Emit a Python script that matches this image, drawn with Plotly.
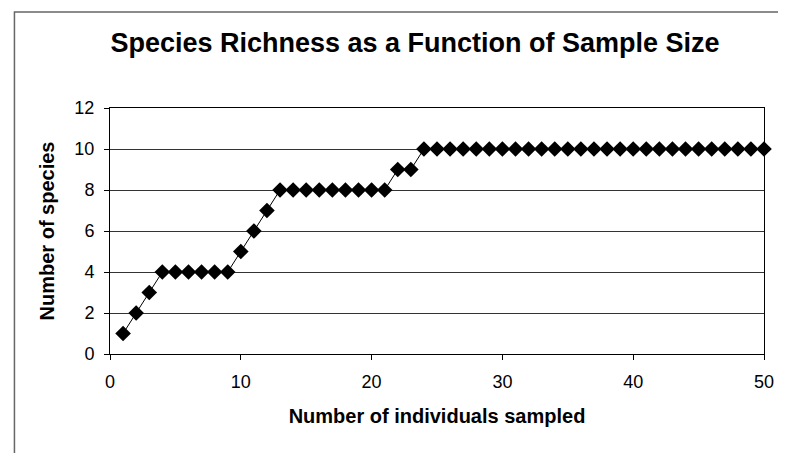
import plotly.graph_objects as go

individuals = list(range(1, 51))
species = [1, 2, 3, 4, 4, 4, 4, 4, 4, 5, 6, 7, 8, 8, 8, 8, 8, 8, 8, 8, 8, 9, 9] + [10] * 27
x_ticks = [0, 10, 20, 30, 40, 50]
y_ticks = [0, 2, 4, 6, 8, 10, 12]

# page body has an 8px margin, so the figure is sized/offset to compensate
OFF = 8
W, H = 786 - OFF, 453 - OFF
L, T = 110 - OFF, 108 - OFF
R = W - (767 - OFF)
B = H - (354 - OFF)
pw, ph = W - L - R, H - T - B

fig = go.Figure()
fig.add_trace(go.Scatter(
    x=individuals, y=species, mode="lines+markers",
    line=dict(color="black", width=1),
    marker=dict(symbol="diamond", size=12, color="black"),
    showlegend=False, cliponaxis=False,
))

font = "Arial, Liberation Sans, sans-serif"
fig.update_layout(
    width=W, height=H,
    margin=dict(l=L, r=R, t=T, b=B),
    paper_bgcolor="white", plot_bgcolor="white",
    font=dict(family=font, color="black", size=18),
    title=dict(text="<b>Species Richness as a Function of Sample Size</b>",
               x=(415 - OFF) / W, xanchor="center", y=1 - (43 - OFF) / H, yanchor="middle",
               font=dict(size=27, family=font, color="black")),
    xaxis=dict(range=[0, 50], tickvals=x_ticks, showgrid=False, zeroline=False,
               showline=True, linecolor="black", linewidth=1, mirror=True,
               ticks="outside", ticklen=5, tickcolor="black", ticklabelstandoff=6,
               tickfont=dict(size=18),
               title=dict(text="<b>Number of individuals sampled</b>", font=dict(size=20), standoff=18)),
    yaxis=dict(range=[0, 12], tickvals=y_ticks, showgrid=True, gridcolor="#333333", gridwidth=1,
               zeroline=False, showline=True, linecolor="black", linewidth=1, mirror=True,
               ticks="outside", ticklen=5, tickcolor="black", ticklabelstandoff=6,
               tickfont=dict(size=18),
               title=dict(text="<b>Number of species</b>", font=dict(size=20), standoff=14)),
)

# outer chart frame (extends beyond the visible crop on right and bottom)
fig.add_shape(type="rect", xref="paper", yref="paper",
              x0=(14 - OFF - L) / pw, x1=(W + 20 - L) / pw,
              y0=-(H + 20 - T - ph) / ph, y1=(H - (12 - OFF) - B) / ph,
              line=dict(color="#666666", width=1.5), layer="below")

fig.write_html("out.html")
